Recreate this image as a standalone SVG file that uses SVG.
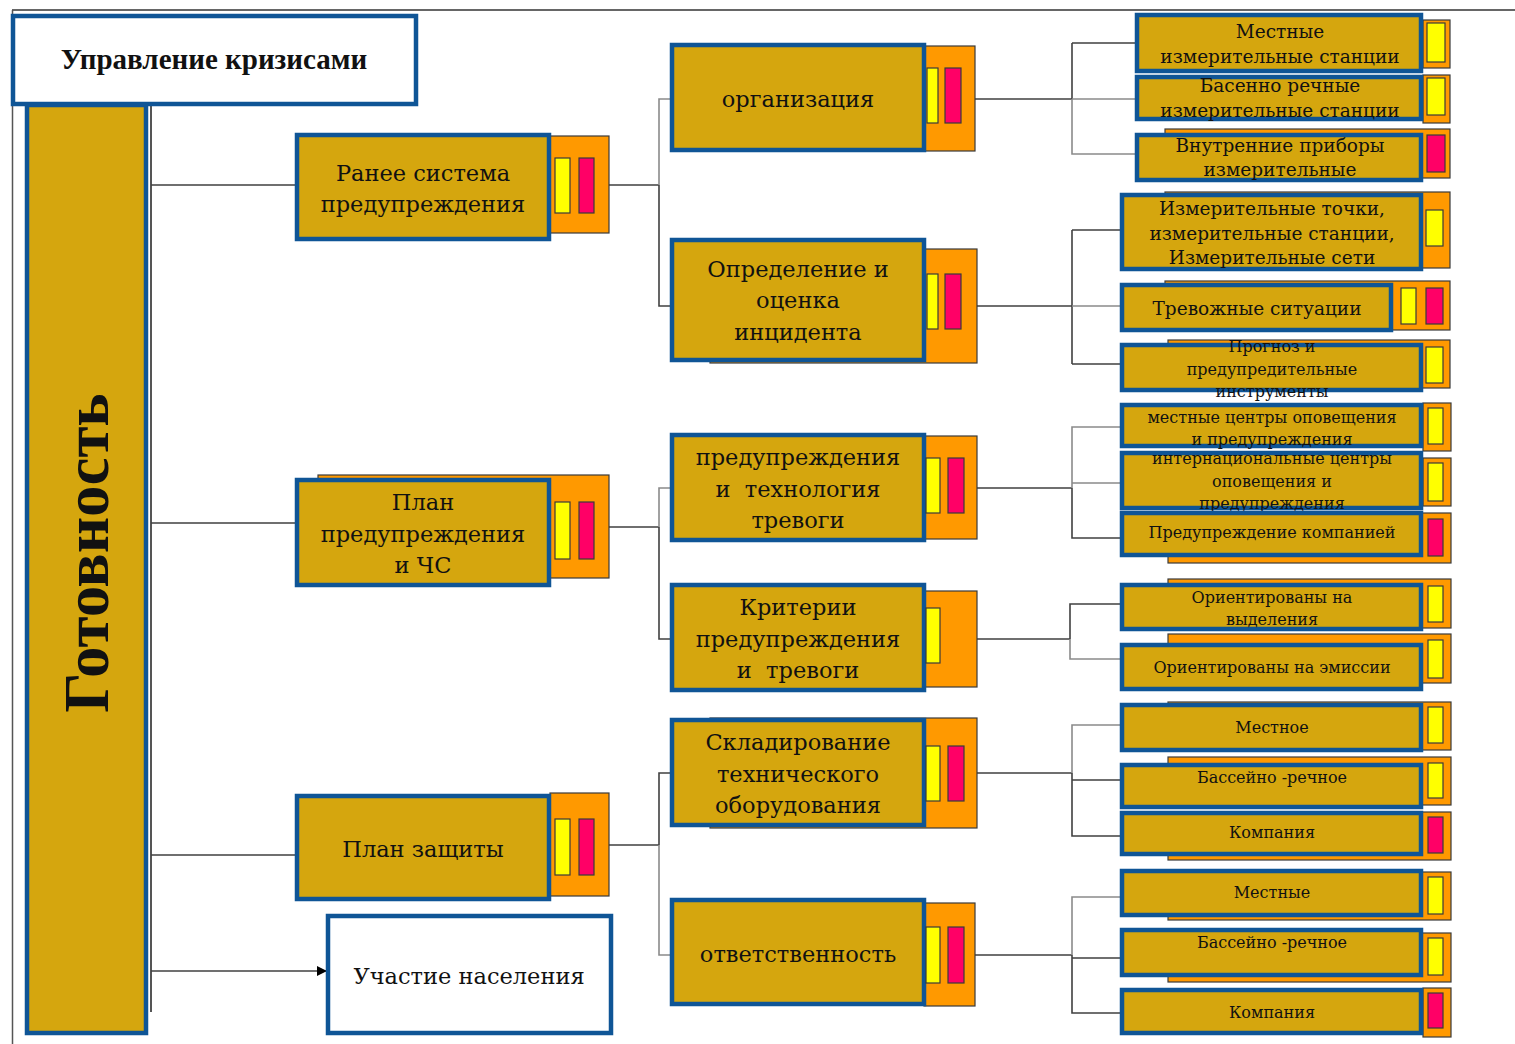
<svg xmlns="http://www.w3.org/2000/svg" width="1515" height="1044" viewBox="0 0 1515 1044">
<defs>
<style>
.bl{fill:#D5A60E;stroke:#0F5596;stroke-width:4.5}
.wb{fill:#FFFFFF;stroke:#0F5596;stroke-width:4.5}
.or{fill:#FF9900;stroke:#3a3a3a;stroke-width:1.2}
.ye{fill:#FFFF00;stroke:#3a3a3a;stroke-width:1.2}
.rd{fill:#FF0066;stroke:#3a3a3a;stroke-width:1.2}
.cn{fill:none;stroke:#404040;stroke-width:1.6}
.cg{fill:none;stroke:#8a8a8a;stroke-width:1.6}
text{font-family:"DejaVu Serif","Liberation Serif",serif;fill:#111;text-anchor:middle}
.t1{font-size:22.5px}
.t2{font-size:22.5px}
.t3{font-size:18.5px}
.t4{font-size:16px}
.t5{font-size:16px}
</style>
<marker id="arr" markerWidth="10" markerHeight="10" refX="9" refY="5" orient="auto" markerUnits="userSpaceOnUse">
<path d="M0,0 L10,5 L0,10 Z" fill="#000"/>
</marker>
</defs>
<rect width="1515" height="1044" fill="#FFFFFF"/>
<g id="frame">
<line x1="12" y1="10" x2="1515" y2="10" stroke="#333" stroke-width="1.5"/>
<line x1="12.5" y1="10" x2="12.5" y2="1044" stroke="#555" stroke-width="1.5"/>
<line x1="151" y1="105" x2="151" y2="1012" stroke="#555" stroke-width="2"/>
</g>
<g id="connectors">
<path class="cn" d="M151,185 H297 M151,523 H297 M151,855 H297"/>
<path class="cn" d="M151,971 H326" marker-end="url(#arr)"/>
<path class="cn" d="M609,185 H659 M659,185 V306 H672"/>
<path class="cg" d="M659,185 V99 H672"/>
<path class="cn" d="M609,527 H659 M659,527 V639 H672"/>
<path class="cg" d="M659,527 V488 H672"/>
<path class="cn" d="M609,845 H659 M659,845 V773 H672"/>
<path class="cg" d="M659,845 V955 H672"/>
<path class="cn" d="M975,99 H1072 M1072,43 H1137 M1072,43 V99"/>
<path class="cg" d="M1072,99 V154 H1137 M1072,99 H1137"/>
<path class="cn" d="M977,306 H1072 M1072,230 V364 M1072,230 H1122 M1072,364 H1122"/>
<path class="cg" d="M1072,306 H1122"/>
<path class="cn" d="M977,488 H1072 M1072,488 V538 H1122"/>
<path class="cg" d="M1072,488 V427 H1122 M1072,483 H1122"/>
<path class="cn" d="M977,639 H1070 M1070,639 V604 H1122"/>
<path class="cg" d="M1070,639 V659 H1122"/>
<path class="cn" d="M977,773 H1072 M1072,773 V836 H1122 M1072,780 H1122"/>
<path class="cg" d="M1072,773 V725 H1122"/>
<path class="cn" d="M975,955 H1072 M1072,955 V1013 H1122 M1072,958 H1122"/>
<path class="cg" d="M1072,955 V897 H1122"/>
</g>
<g id="title">
<rect class="wb" x="13" y="16" width="403" height="88"/>
<text x="214" y="69" style="font-family:'Liberation Serif',serif;font-weight:bold;font-size:29px">Управление кризисами</text>
</g>
<g id="gotovnost">
<rect class="bl" x="27" y="105" width="119" height="928"/>
<text transform="translate(108,553) rotate(-90)" style="font-family:'Liberation Serif',serif;font-weight:bold;font-size:63px">Готовность</text>
</g>
<g id="n-ranee">
<rect class="or" x="550" y="136" width="59" height="97"/>
<rect class="bl" x="297" y="135" width="252" height="104"/>
<rect class="ye" x="555" y="158" width="15" height="55"/>
<rect class="rd" x="579" y="158" width="15" height="55"/>
<text class="t1" x="423" y="181">Ранее система</text>
<text class="t1" x="423" y="212">предупреждения</text>
</g>
<g id="n-plan-chs">
<rect class="or" x="318" y="475" width="291" height="103"/>
<rect class="bl" x="297" y="480" width="252" height="105"/>
<rect class="ye" x="555" y="502" width="15" height="57"/>
<rect class="rd" x="579" y="502" width="15" height="57"/>
<text class="t1" x="423" y="510">План</text>
<text class="t1" x="423" y="542">предупреждения</text>
<text class="t1" x="423" y="573">и ЧС</text>
</g>
<g id="n-plan-zash">
<rect class="or" x="550" y="793" width="59" height="103"/>
<rect class="bl" x="297" y="796" width="252" height="103"/>
<rect class="ye" x="555" y="819" width="15" height="56"/>
<rect class="rd" x="579" y="819" width="15" height="56"/>
<text class="t1" x="423" y="857">План защиты</text>
</g>
<g id="n-uchastie">
<rect class="wb" x="328" y="916" width="283" height="117"/>
<text class="t1" x="469" y="984">Участие населения</text>
</g>
<g id="n-org">
<rect class="or" x="924" y="46" width="51" height="105"/>
<rect class="bl" x="672" y="45" width="252" height="105"/>
<rect class="ye" x="927" y="68" width="11" height="55"/>
<rect class="rd" x="945" y="68" width="16" height="55"/>
<text class="t2" x="798" y="107">организация</text>
</g>
<g id="n-opred">
<rect class="or" x="710" y="249" width="267" height="114"/>
<rect class="bl" x="672" y="240" width="252" height="120"/>
<rect class="ye" x="927" y="274" width="11" height="55"/>
<rect class="rd" x="945" y="274" width="16" height="55"/>
<text class="t2" x="798" y="277">Определение и</text>
<text class="t2" x="798" y="308">оценка</text>
<text class="t2" x="798" y="340">инцидента</text>
</g>
<g id="n-tech">
<rect class="or" x="924" y="436" width="53" height="103"/>
<rect class="bl" x="672" y="435" width="252" height="105"/>
<rect class="ye" x="926" y="458" width="14" height="55"/>
<rect class="rd" x="948" y="458" width="16" height="55"/>
<text class="t2" x="798" y="465">предупреждения</text>
<text class="t2" x="798" y="497" xml:space="preserve">и  технология</text>
<text class="t2" x="798" y="528">тревоги</text>
</g>
<g id="n-krit">
<rect class="or" x="924" y="591" width="53" height="96"/>
<rect class="bl" x="672" y="585" width="252" height="105"/>
<rect class="ye" x="926" y="608" width="14" height="55"/>
<text class="t2" x="798" y="615">Критерии</text>
<text class="t2" x="798" y="647">предупреждения</text>
<text class="t2" x="798" y="678" xml:space="preserve">и  тревоги</text>
</g>
<g id="n-sklad">
<rect class="or" x="710" y="718" width="267" height="110"/>
<rect class="bl" x="672" y="720" width="252" height="105"/>
<rect class="ye" x="926" y="746" width="14" height="55"/>
<rect class="rd" x="948" y="746" width="16" height="55"/>
<text class="t2" x="798" y="750">Складирование</text>
<text class="t2" x="798" y="782">технического</text>
<text class="t2" x="798" y="813">оборудования</text>
</g>
<g id="n-otv">
<rect class="or" x="924" y="903" width="51" height="103"/>
<rect class="bl" x="672" y="900" width="252" height="104"/>
<rect class="ye" x="926" y="927" width="14" height="56"/>
<rect class="rd" x="948" y="927" width="16" height="56"/>
<text class="t2" x="798" y="962">ответственность</text>
</g>
<g id="g1a">
<rect class="or" x="1423" y="20" width="27" height="48"/>
<rect class="bl" x="1137" y="15" width="284" height="56"/>
<rect class="ye" x="1427" y="23" width="18" height="39"/>
<text class="t3" x="1280" y="38">Местные</text>
<text class="t3" x="1280" y="63">измерительные станции</text>
</g>
<g id="g1b">
<rect class="or" x="1423" y="75" width="27" height="48"/>
<rect class="bl" x="1137" y="77" width="284" height="42"/>
<rect class="ye" x="1427" y="78" width="18" height="37"/>
<text class="t3" x="1280" y="92">Басенно речные</text>
<text class="t3" x="1280" y="117">измерительные станции</text>
</g>
<g id="g1c">
<rect class="or" x="1165" y="129" width="285" height="49"/>
<rect class="bl" x="1137" y="135" width="284" height="45"/>
<rect class="rd" x="1427" y="135" width="18" height="37"/>
<text class="t3" x="1280" y="152">Внутренние приборы</text>
<text class="t3" x="1280" y="176">измерительные</text>
</g>
<g id="g2a">
<rect class="or" x="1165" y="192" width="285" height="76"/>
<rect class="bl" x="1122" y="195" width="299" height="74"/>
<rect class="ye" x="1426" y="210" width="17" height="36"/>
<text class="t3" x="1272" y="215">Измерительные точки,</text>
<text class="t3" x="1272" y="240">измерительные станции,</text>
<text class="t3" x="1272" y="264">Измерительные сети</text>
</g>
<g id="g2b">
<rect class="or" x="1165" y="281" width="285" height="49"/>
<rect class="bl" x="1122" y="285" width="269" height="45"/>
<rect class="ye" x="1401" y="288" width="15" height="36"/>
<rect class="rd" x="1426" y="288" width="17" height="36"/>
<text class="t3" x="1257" y="315">Тревожные ситуации</text>
</g>
<g id="g2c">
<rect class="or" x="1168" y="340" width="282" height="48"/>
<rect class="bl" x="1122" y="345" width="299" height="45"/>
<rect class="ye" x="1426" y="347" width="17" height="36"/>
<text class="t4" x="1272" y="352">Прогноз и</text>
<text class="t4" x="1272" y="375">предупредительные</text>
<text class="t4" x="1272" y="397">инструменты</text>
</g>
<g id="g3a">
<rect class="or" x="1423" y="403" width="28" height="48"/>
<rect class="bl" x="1122" y="405" width="299" height="41"/>
<rect class="ye" x="1428" y="408" width="15" height="36"/>
<text class="t4" x="1272" y="423">местные центры оповещения</text>
<text class="t4" x="1272" y="445">и предупреждения</text>
</g>
<g id="g3b">
<rect class="or" x="1423" y="458" width="28" height="48"/>
<rect class="bl" x="1122" y="453" width="299" height="55"/>
<rect class="ye" x="1428" y="463" width="15" height="38"/>
<text class="t4" x="1272" y="464">интернациональные центры</text>
<text class="t4" x="1272" y="487">оповещения и</text>
<text class="t4" x="1272" y="509">предупреждения</text>
</g>
<g id="g3c">
<rect class="or" x="1168" y="513" width="283" height="50"/>
<rect class="bl" x="1122" y="513" width="299" height="42"/>
<rect class="rd" x="1428" y="519" width="15" height="37"/>
<text class="t4" x="1272" y="538">Предупреждение компанией</text>
</g>
<g id="g4a">
<rect class="or" x="1168" y="579" width="283" height="49"/>
<rect class="bl" x="1122" y="585" width="299" height="44"/>
<rect class="ye" x="1428" y="586" width="15" height="36"/>
<text class="t5" x="1272" y="603">Ориентированы на</text>
<text class="t5" x="1272" y="625">выделения</text>
</g>
<g id="g4b">
<rect class="or" x="1168" y="634" width="283" height="49"/>
<rect class="bl" x="1122" y="645" width="299" height="44"/>
<rect class="ye" x="1428" y="640" width="15" height="38"/>
<text class="t5" x="1272" y="673">Ориентированы на эмиссии</text>
</g>
<g id="g5a">
<rect class="or" x="1168" y="702" width="283" height="48"/>
<rect class="bl" x="1122" y="705" width="299" height="45"/>
<rect class="ye" x="1428" y="707" width="15" height="36"/>
<text class="t5" x="1272" y="733">Местное</text>
</g>
<g id="g5b">
<rect class="or" x="1168" y="757" width="283" height="48"/>
<rect class="bl" x="1122" y="765" width="299" height="42"/>
<rect class="ye" x="1428" y="763" width="15" height="35"/>
<text class="t5" x="1272" y="783">Бассейно -речное</text>
</g>
<g id="g5c">
<rect class="or" x="1168" y="812" width="283" height="48"/>
<rect class="bl" x="1122" y="813" width="299" height="41"/>
<rect class="rd" x="1428" y="817" width="15" height="36"/>
<text class="t5" x="1272" y="838">Компания</text>
</g>
<g id="g6a">
<rect class="or" x="1168" y="872" width="283" height="48"/>
<rect class="bl" x="1122" y="871" width="299" height="44"/>
<rect class="ye" x="1428" y="877" width="15" height="37"/>
<text class="t5" x="1272" y="898">Местные</text>
</g>
<g id="g6b">
<rect class="or" x="1168" y="933" width="283" height="49"/>
<rect class="bl" x="1122" y="930" width="299" height="45"/>
<rect class="ye" x="1428" y="938" width="15" height="37"/>
<text class="t5" x="1272" y="948">Бассейно -речное</text>
</g>
<g id="g6c">
<rect class="or" x="1423" y="988" width="28" height="49"/>
<rect class="bl" x="1122" y="990" width="299" height="43"/>
<rect class="rd" x="1428" y="993" width="15" height="35"/>
<text class="t5" x="1272" y="1018">Компания</text>
</g>
</svg>
